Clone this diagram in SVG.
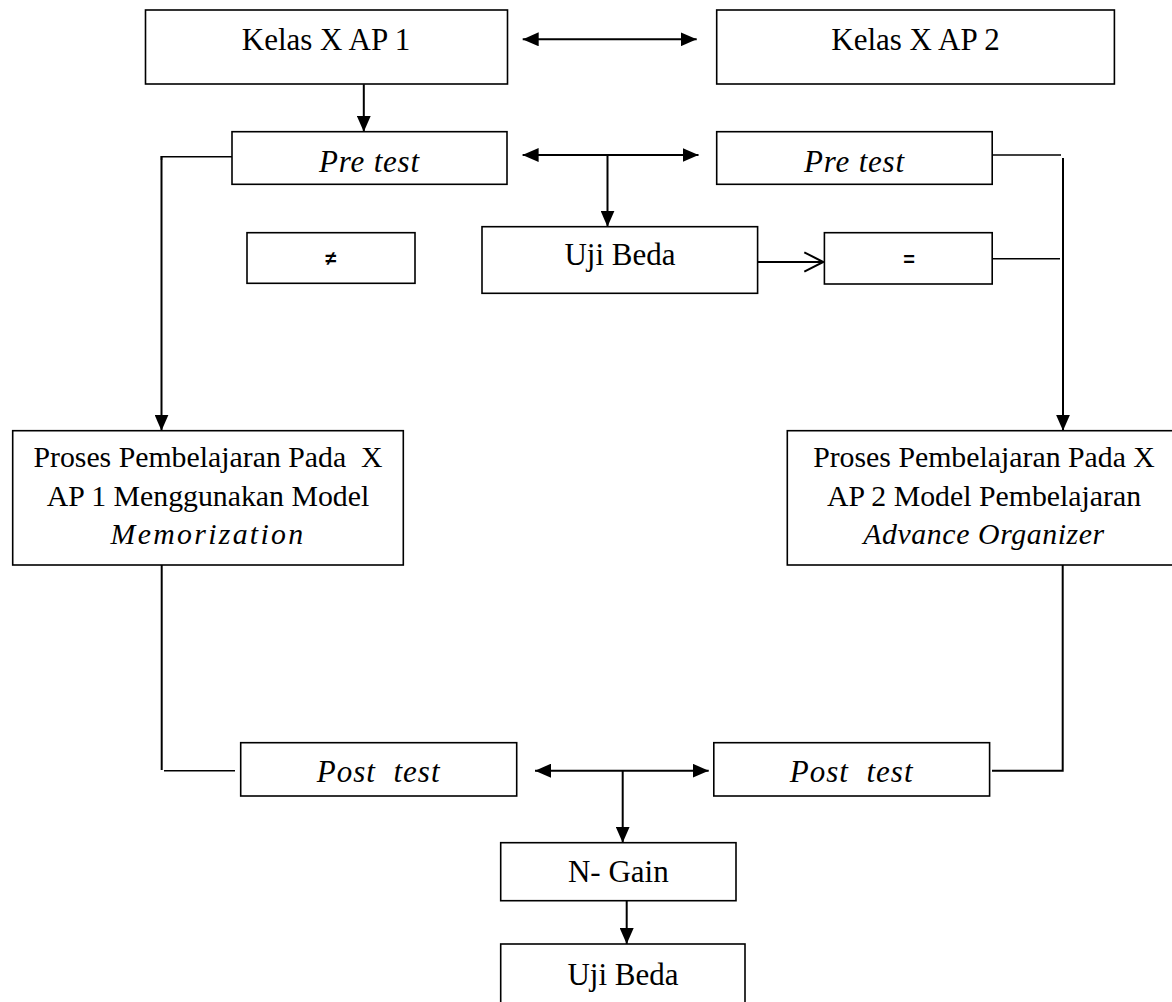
<svg xmlns="http://www.w3.org/2000/svg" width="1172" height="1002" viewBox="0 0 1172 1002">
<style>
.box{fill:#fff;stroke:#000;stroke-width:1.6}
.t{font-family:"Liberation Serif","Times New Roman",serif;font-size:31px;fill:#000;text-anchor:middle}
.p{font-size:29.8px}
.i{font-style:italic}
.sym{font-family:"Liberation Sans",Arial,sans-serif;font-weight:bold;font-size:20px;fill:#000;text-anchor:middle}
.c{stroke:#000;stroke-width:2;fill:none}
.thin{stroke:#000;stroke-width:1.6;fill:none}
</style>
<defs>
<marker id="ah" markerUnits="userSpaceOnUse" markerWidth="16" markerHeight="14" refX="16" refY="7" orient="auto-start-reverse">
<path d="M0,0 L16,7 L0,14 z" fill="#000"/>
</marker>
</defs>
<rect width="1172" height="1002" fill="#fff"/>
<g id="connectors">
<line class="c" x1="522.7" y1="39.3" x2="696.7" y2="39.3" marker-start="url(#ah)" marker-end="url(#ah)"/>
<line class="c" x1="363.8" y1="84.3" x2="363.8" y2="131.7" marker-end="url(#ah)"/>
<line class="c" x1="522.6" y1="155" x2="698.5" y2="155" marker-start="url(#ah)" marker-end="url(#ah)"/>
<line class="c" x1="607.5" y1="155" x2="607.5" y2="226.7" marker-end="url(#ah)"/>
<polyline class="thin" points="232,156.7 161.5,156.7 161.5,160"/>
<line class="c" x1="161.5" y1="156" x2="161.5" y2="430.7" marker-end="url(#ah)"/>
<line class="thin" x1="992" y1="155" x2="1061" y2="155"/>
<line class="c" x1="1063" y1="158" x2="1063" y2="430.7" marker-end="url(#ah)"/>
<line class="c" x1="757.6" y1="262" x2="822.5" y2="262"/>
<path class="c" d="M804.3,252.3 L823.3,262 L804.3,271.7"/>
<line class="thin" x1="992.2" y1="258.7" x2="1060" y2="258.7"/>
<polyline class="c" points="161.7,565 161.7,770"/>
<line class="thin" x1="164" y1="770.7" x2="235" y2="770.7"/>
<polyline class="c" points="1062.7,565 1062.7,770.7 992,770.7"/>
<line class="c" x1="535" y1="770.7" x2="708.7" y2="770.7" marker-start="url(#ah)" marker-end="url(#ah)"/>
<line class="c" x1="622.7" y1="770.7" x2="622.7" y2="842.7" marker-end="url(#ah)"/>
<line class="c" x1="626.7" y1="900.7" x2="626.7" y2="944" marker-end="url(#ah)"/>
</g>
<g id="kelas1"><rect class="box" x="145.5" y="10" width="362" height="74"/><text class="t" x="326" y="50">Kelas X AP 1</text></g>
<g id="kelas2"><rect class="box" x="716.7" y="10" width="397.7" height="74"/><text class="t" x="915.5" y="50">Kelas X AP 2</text></g>
<g id="pretest1"><rect class="box" x="232" y="131.7" width="275" height="52.6"/><text class="t i" x="369.5" y="171.7" letter-spacing="0.8">Pre test</text></g>
<g id="pretest2"><rect class="box" x="716.7" y="131.7" width="275.5" height="52.6"/><text class="t i" x="854.5" y="171.7" letter-spacing="0.8">Pre test</text></g>
<g id="neq"><rect class="box" x="247" y="232.7" width="168" height="50.6"/><text class="sym" x="331" y="265">≠</text></g>
<g id="ujibeda1"><rect class="box" x="482" y="226.7" width="275.6" height="66.6"/><text class="t" x="620" y="265">Uji Beda</text></g>
<g id="eq"><rect class="box" x="824.4" y="232.7" width="167.8" height="51.3"/><text class="sym" x="909" y="266">=</text></g>
<g id="proses1"><rect class="box" x="12.7" y="430.7" width="390.6" height="134.3"/>
<text class="t p" x="208" y="467" xml:space="preserve">Proses Pembelajaran Pada  X</text>
<text class="t p" x="208" y="506">AP 1 Menggunakan Model</text>
<text class="t p i" x="208" y="544" letter-spacing="2.3">Memorization</text></g>
<g id="proses2"><rect class="box" x="787.3" y="430.7" width="390" height="134.3"/>
<text class="t p" x="984" y="467">Proses Pembelajaran Pada X</text>
<text class="t p" x="984" y="506">AP 2 Model Pembelajaran</text>
<text class="t p i" x="984" y="544" letter-spacing="0.6">Advance Organizer</text></g>
<g id="posttest1"><rect class="box" x="240.7" y="742.7" width="276" height="53.3"/><text class="t i" x="378.7" y="781.7" letter-spacing="1" xml:space="preserve">Post  test</text></g>
<g id="posttest2"><rect class="box" x="713.8" y="742.7" width="275.8" height="53.3"/><text class="t i" x="851.7" y="781.7" letter-spacing="1" xml:space="preserve">Post  test</text></g>
<g id="ngain"><rect class="box" x="500.7" y="842.7" width="235.3" height="58"/><text class="t" x="618.3" y="881.7">N- Gain</text></g>
<g id="ujibeda2"><rect class="box" x="500.7" y="944" width="244.3" height="62"/><text class="t" x="623" y="985">Uji Beda</text></g>
</svg>
